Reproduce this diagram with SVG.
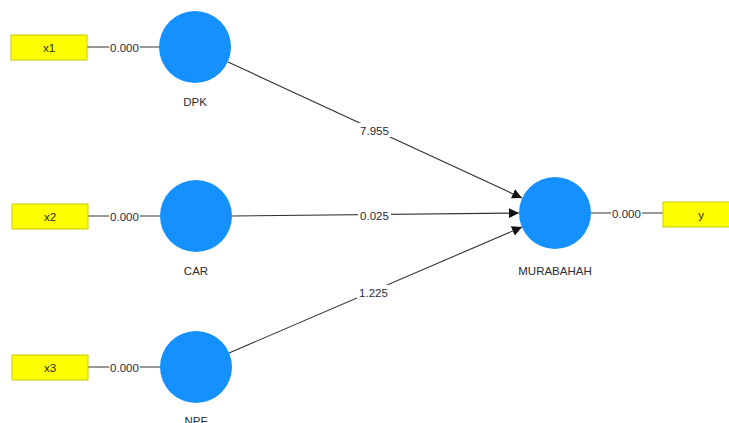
<svg xmlns="http://www.w3.org/2000/svg" width="729" height="423" viewBox="0 0 729 423">
<defs>
<style>
.box{fill:#ffff00;stroke:#c9c900;stroke-width:1}
.lv{fill:#1591ff}
.t{font-family:"Liberation Sans",Arial,sans-serif;font-size:11.5px;fill:#2a2a3a;text-anchor:middle}
.e{stroke:#333;stroke-width:1.1;fill:none}
.lb{fill:#ffffff}
</style>
<marker id="ah" viewBox="0 0 10 10" refX="10" refY="5" markerWidth="10" markerHeight="10" markerUnits="userSpaceOnUse" orient="auto">
<path d="M0,0 L10,5 L0,10 z" fill="#111"/>
</marker>
</defs>
<rect width="729" height="423" fill="#ffffff"/>
<g id="connectors">
<line class="e" x1="87" y1="47" x2="160" y2="47"/>
<line class="e" x1="88" y1="216" x2="160" y2="216"/>
<line class="e" x1="88" y1="367" x2="160" y2="367"/>
<line class="e" x1="591" y1="213" x2="663" y2="213"/>
<line class="e" x1="228" y1="62" x2="522" y2="198" marker-end="url(#ah)"/>
<line class="e" x1="232" y1="216" x2="519" y2="213" marker-end="url(#ah)"/>
<line class="e" x1="229" y1="353" x2="522" y2="227" marker-end="url(#ah)"/>
<rect class="lb" x="109" y="40" width="31" height="14"/>
<text class="t" x="124.5" y="51.5">0.000</text>
<rect class="lb" x="109" y="209" width="31" height="14"/>
<text class="t" x="124.5" y="220.5">0.000</text>
<rect class="lb" x="109" y="360" width="31" height="14"/>
<text class="t" x="124.5" y="371.5">0.000</text>
<rect class="lb" x="611" y="206" width="31" height="14"/>
<text class="t" x="626.5" y="217.5">0.000</text>
<rect class="lb" x="358" y="123" width="33" height="14"/>
<text class="t" x="374.5" y="134.5">7.955</text>
<rect class="lb" x="358" y="208" width="33" height="14"/>
<text class="t" x="374.5" y="219.5">0.025</text>
<rect class="lb" x="357" y="285" width="33" height="14"/>
<text class="t" x="373.5" y="296.5">1.225</text>
</g>
<g id="x1"><rect class="box" x="11" y="35" width="76" height="25"/><text class="t" x="49" y="52">x1</text></g>
<g id="x2"><rect class="box" x="12" y="204" width="76" height="25"/><text class="t" x="50" y="221">x2</text></g>
<g id="x3"><rect class="box" x="12" y="355" width="76" height="25"/><text class="t" x="50" y="372">x3</text></g>
<g id="y"><rect class="box" x="663" y="202" width="77" height="25"/><text class="t" x="701" y="219">y</text></g>
<g id="DPK"><circle class="lv" cx="195" cy="47" r="36"/><text class="t" x="195" y="106">DPK</text></g>
<g id="CAR"><circle class="lv" cx="196" cy="216" r="36"/><text class="t" x="196" y="275">CAR</text></g>
<g id="NPF"><circle class="lv" cx="196" cy="367" r="36"/><text class="t" x="196" y="425">NPF</text></g>
<g id="MURABAHAH"><circle class="lv" cx="555" cy="213" r="36"/><text class="t" x="555" y="275">MURABAHAH</text></g>
</svg>
